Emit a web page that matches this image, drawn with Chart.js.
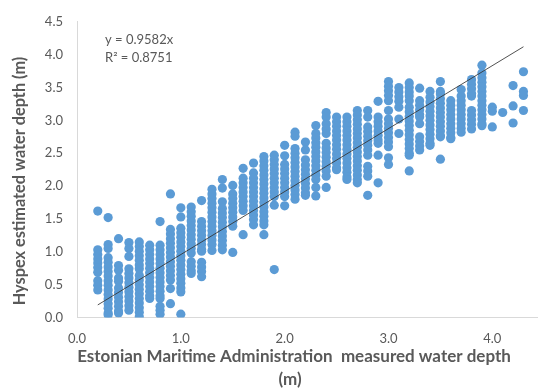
<!DOCTYPE html>
<html>
<head>
<meta charset="utf-8">
<script src="https://cdn.jsdelivr.net/npm/chart.js@4.4.1/dist/chart.umd.min.js"></script>
<style>
  html, body { margin: 0; padding: 0; background: #fff; }
  #wrap { width: 538px; height: 392px; position: relative; }
</style>
</head>
<body>
<div id="wrap"><canvas id="depthChart" width="538" height="392"></canvas></div>
<script>
// measured depth (x) per column, estimated depth values (y) read off per column
const measuredDepth = [0.2, 0.3, 0.4, 0.5, 0.6, 0.7, 0.8, 0.9, 1.0, 1.1, 1.2, 1.3, 1.4, 1.5,
    1.6, 1.7, 1.8, 1.9, 2.0, 2.1, 2.2, 2.3, 2.4, 2.5, 2.6, 2.7, 2.8, 2.9, 3.0, 3.1, 3.2,
    3.3, 3.4, 3.5, 3.6, 3.7, 3.8, 3.9, 4.0, 4.1, 4.2, 4.3];

const estimatedDepth = [
    [1.62, 1.03, 0.96, 0.89, 0.83, 0.76, 0.69, 0.56, 0.49, 0.42],
    [1.52, 1.11, 1.05, 0.91, 0.84, 0.77, 0.70, 0.63, 0.56, 0.49, 0.42, 0.35, 0.28, 0.21, 0.14, 0.07, 0.04],
    [1.20, 0.79, 0.72, 0.60, 0.55, 0.45, 0.38, 0.31, 0.24, 0.17, 0.10, 0.07],
    [1.14, 1.05, 0.93, 0.74, 0.67, 0.60, 0.53, 0.46, 0.39, 0.32, 0.25, 0.18, 0.11],
    [1.15, 1.08, 1.01, 0.94, 0.87, 0.80, 0.74, 0.64, 0.57, 0.50, 0.43, 0.36, 0.29, 0.22, 0.15, 0.08, 0.01],
    [1.10, 1.03, 0.96, 0.89, 0.82, 0.75, 0.68, 0.61, 0.54, 0.47, 0.40, 0.33, 0.29],
    [1.46, 1.10, 1.03, 0.96, 0.89, 0.82, 0.75, 0.68, 0.61, 0.54, 0.47, 0.40, 0.33, 0.29, 0.17, 0.11, 0.05],
    [1.88, 1.34, 1.27, 1.20, 1.13, 1.06, 0.99, 0.92, 0.85, 0.78, 0.71, 0.64, 0.57, 0.44, 0.21],
    [1.67, 1.53, 1.36, 1.29, 1.22, 1.15, 1.08, 1.01, 0.94, 0.87, 0.80, 0.73, 0.66, 0.59, 0.52, 0.45, 0.39, 0.05],
    [1.68, 1.61, 1.54, 1.47, 1.40, 1.33, 1.26, 1.19, 1.12, 1.05, 0.98, 0.85, 0.78, 0.71, 0.67],
    [1.78, 1.46, 1.39, 1.32, 1.25, 1.18, 1.11, 1.04, 1.01, 0.84, 0.77, 0.70, 0.62],
    [1.95, 1.88, 1.81, 1.74, 1.67, 1.60, 1.53, 1.46, 1.39, 1.32, 1.25, 1.18, 1.11, 1.02],
    [2.10, 1.97, 1.76, 1.66, 1.59, 1.52, 1.45, 1.38, 1.31, 1.24, 1.17, 1.10, 1.03],
    [2.01, 1.88, 1.81, 1.74, 1.67, 1.60, 1.53, 1.46, 1.39, 0.99],
    [2.27, 2.12, 2.05, 1.98, 1.91, 1.84, 1.77, 1.70, 1.63, 1.26],
    [2.35, 2.20, 2.12, 2.05, 1.98, 1.91, 1.84, 1.77, 1.70, 1.63, 1.56, 1.49, 1.41],
    [2.45, 2.38, 2.31, 2.24, 2.17, 2.10, 2.03, 1.96, 1.89, 1.82, 1.75, 1.68, 1.61, 1.54, 1.47, 1.41, 1.26],
    [2.47, 2.40, 2.33, 2.26, 2.19, 2.12, 2.05, 1.98, 1.91, 1.84, 1.71, 0.73],
    [2.62, 2.46, 2.33, 2.26, 2.19, 2.12, 2.05, 1.98, 1.91, 1.84, 1.70],
    [2.82, 2.76, 2.57, 2.50, 2.43, 2.36, 2.29, 2.22, 2.15, 2.08, 2.01, 1.94, 1.87, 1.80],
    [2.67, 2.55, 2.40, 2.32, 2.25, 2.18, 2.11, 2.04, 1.97, 1.90, 1.86],
    [2.92, 2.80, 2.73, 2.66, 2.59, 2.52, 2.45, 2.38, 2.31, 2.24, 2.17, 2.10, 1.98, 1.85],
    [3.12, 3.05, 2.95, 2.87, 2.80, 2.65, 2.58, 2.51, 2.44, 2.37, 2.30, 2.23, 2.15, 1.98],
    [3.05, 2.98, 2.91, 2.84, 2.77, 2.70, 2.63, 2.56, 2.49, 2.42, 2.35, 2.28, 2.25],
    [3.05, 2.98, 2.91, 2.84, 2.77, 2.70, 2.63, 2.56, 2.49, 2.42, 2.35, 2.28, 2.21, 2.14, 2.10],
    [3.15, 3.08, 3.01, 2.94, 2.87, 2.80, 2.73, 2.66, 2.59, 2.52, 2.45, 2.38, 2.31, 2.24, 2.17, 2.10, 2.05],
    [3.15, 3.05, 2.90, 2.83, 2.76, 2.69, 2.62, 2.55, 2.47, 2.30, 2.23, 2.15, 1.86],
    [3.29, 3.05, 2.98, 2.91, 2.84, 2.77, 2.70, 2.65, 2.47, 2.05],
    [3.59, 3.52, 3.45, 3.38, 3.30, 3.15, 3.02, 2.95, 2.88, 2.81, 2.74, 2.67, 2.60, 2.43, 2.33],
    [3.50, 3.43, 3.36, 3.29, 3.20, 3.02, 2.80],
    [3.57, 3.50, 3.43, 3.37, 3.30, 3.20, 3.13, 3.06, 2.99, 2.92, 2.85, 2.78, 2.71, 2.64, 2.57, 2.50, 2.47, 2.23],
    [3.49, 3.30, 3.23, 3.16, 3.09, 3.05, 2.95, 2.75, 2.68, 2.61, 2.55],
    [3.44, 3.35, 3.28, 3.21, 3.14, 3.07, 3.00, 2.93, 2.86, 2.79, 2.72, 2.65, 2.62],
    [3.59, 3.44, 3.40, 3.33, 3.26, 3.19, 3.12, 3.05, 2.98, 2.91, 2.84, 2.77, 2.75, 2.41],
    [3.30, 3.23, 3.16, 3.09, 3.02, 2.95, 2.88, 2.81, 2.74, 2.72],
    [3.47, 3.37, 3.30, 3.23, 3.16, 3.09, 3.02, 2.95, 2.88, 2.82],
    [3.62, 3.55, 3.48, 3.41, 3.37, 3.15, 3.08, 3.01, 2.94, 2.87],
    [3.84, 3.72, 3.65, 3.58, 3.51, 3.44, 3.37, 3.30, 3.23, 3.16, 3.09, 3.02, 2.95, 2.92],
    [3.20, 3.14, 2.90],
    [3.12],
    [3.53, 3.22, 2.96],
    [3.74, 3.44, 3.38, 3.15]
];

const trendSlope = 0.9582;
const trendRange = [0.2, 4.3];
const equationLines = ['y = 0.9582x', 'R\u00b2 = 0.8751'];
const xTicks = [0, 1, 2, 3, 4];
const xTitle = ['Estonian Maritime Administration  measured water depth', '(m)'];
const yTitle = 'Hyspex estimated water depth (m)';

const points = [];
measuredDepth.forEach((x, i) => {
    estimatedDepth[i].forEach(y => points.push({ x: x, y: y }));
});

const trendPoints = trendRange.map(x => ({ x: x, y: trendSlope * x }));

const textGray = '#595959';
const fontFamily = 'Lato, "Open Sans", sans-serif';

// draws axis titles and the trendline label where Excel put them
const labelsPlugin = {
    id: 'labelsPlugin',
    afterDraw(chart) {
        const ctx = chart.ctx;
        ctx.save();
        ctx.fillStyle = textGray;
        ctx.textBaseline = 'middle';

        ctx.font = '13px ' + fontFamily;
        ctx.textAlign = 'left';
        ctx.fillText(equationLines[0], 105, 40);
        ctx.fillText(equationLines[1], 105, 58);

        ctx.font = 'bold 17px ' + fontFamily;
        ctx.textAlign = 'center';
        ctx.fillText(xTitle[0], 294, 357);
        ctx.fillText(xTitle[1], 290, 380);

        ctx.font = 'bold 16.3px ' + fontFamily;
        ctx.translate(20, 181);
        ctx.rotate(-Math.PI / 2);
        ctx.fillText(yTitle, 0, 0);
        ctx.restore();
    }
};

new Chart(document.getElementById('depthChart'), {
    type: 'scatter',
    data: {
        datasets: [
            {
                label: 'trend',
                type: 'line',
                data: trendPoints,
                borderColor: 'rgba(50,50,50,0.85)',
                borderWidth: 1,
                pointRadius: 0,
                fill: false,
                order: 0
            },
            {
                label: 'depth',
                data: points,
                backgroundColor: '#5B9BD5',
                borderWidth: 0,
                pointRadius: 4.6,
                order: 1
            }
        ]
    },
    options: {
        responsive: false,
        animation: false,
        events: [],
        layout: { autoPadding: false, padding: { top: 16, left: 0, right: 0, bottom: 0 } },
        plugins: {
            legend: { display: false },
            tooltip: { enabled: false }
        },
        scales: {
            x: {
                type: 'linear',
                min: 0,
                max: 4.44,
                afterBuildTicks: scale => { scale.ticks = xTicks.map(v => ({ value: v })); },
                afterFit: scale => { scale.height = 74.5; },
                grid: { display: false, drawTicks: false },
                border: { display: true, color: '#d9d9d9', width: 1 },
                ticks: {
                    color: textGray,
                    font: { family: fontFamily, size: 13 },
                    padding: 14,
                    maxRotation: 0,
                    callback: v => v.toFixed(1)
                }
            },
            y: {
                min: 0,
                max: 4.5,
                afterFit: scale => { scale.width = 77; },
                grid: { display: false, drawTicks: false },
                border: { display: true, color: '#d9d9d9', width: 1 },
                ticks: {
                    stepSize: 0.5,
                    color: textGray,
                    font: { family: fontFamily, size: 13 },
                    padding: 14,
                    callback: v => v.toFixed(1)
                }
            }
        }
    },
    plugins: [labelsPlugin]
});
</script>
</body>
</html>
